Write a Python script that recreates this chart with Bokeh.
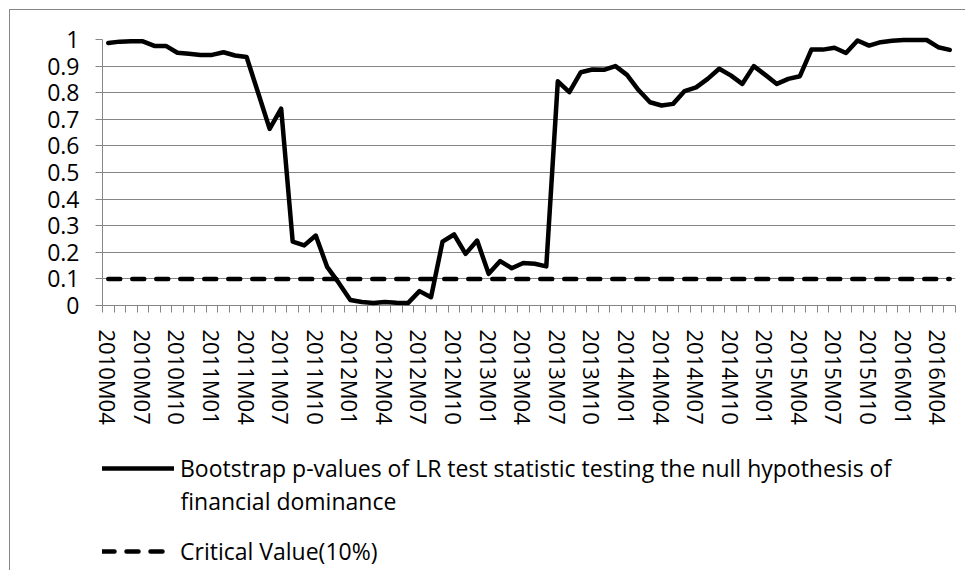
from bokeh.plotting import figure
from bokeh.layouts import column
from bokeh.models import Range1d, FixedTicker, Legend, LegendItem, Label
from bokeh.embed import file_html
from bokeh.resources import INLINE

# ---- data ----
p_values = [0.987, 0.992, 0.993, 0.993, 0.976, 0.976, 0.950, 0.946, 0.942, 0.942,
            0.952, 0.940, 0.934, 0.800, 0.664, 0.740, 0.240, 0.226, 0.263, 0.144,
            0.085, 0.021, 0.013, 0.009, 0.013, 0.010, 0.009, 0.054, 0.031, 0.240,
            0.267, 0.194, 0.244, 0.119, 0.167, 0.140, 0.160, 0.157, 0.147, 0.843,
            0.802, 0.877, 0.887, 0.886, 0.900, 0.867, 0.810, 0.764, 0.752, 0.758,
            0.806, 0.820, 0.852, 0.890, 0.865, 0.833, 0.900, 0.867, 0.833, 0.852,
            0.862, 0.962, 0.962, 0.969, 0.949, 0.996, 0.977, 0.990, 0.995, 0.998,
            0.998, 0.998, 0.971, 0.961]
critical_value = [0.1] * len(p_values)
month_index = list(range(len(p_values)))  # 2010M04 ... 2016M05

x_tick_labels = ["2010M04", "2010M07", "2010M10", "2011M01", "2011M04", "2011M07",
                 "2011M10", "2012M01", "2012M04", "2012M07", "2012M10", "2013M01",
                 "2013M04", "2013M07", "2013M10", "2014M01", "2014M04", "2014M07",
                 "2014M10", "2015M01", "2015M04", "2015M07", "2015M10", "2016M01",
                 "2016M04"]
x_tick_pos = [3 * k for k in range(len(x_tick_labels))]
y_ticks = [0, 0.1, 0.2, 0.3, 0.4, 0.5, 0.6, 0.7, 0.8, 0.9, 1]
y_tick_labels = ["0", "0.1", "0.2", "0.3", "0.4", "0.5", "0.6", "0.7", "0.8", "0.9", "1"]

label_1_line_1 = "Bootstrap p-values of LR test statistic testing the null hypothesis of"
label_1_line_2 = "financial dominance"
label_2 = "Critical Value(10%)"

GRAY = "#868686"
FONT = "Open Sans"
W = 965

# ---------------- main chart ----------------
p = figure(width=W, height=440, output_backend="svg", toolbar_location=None,
           x_range=Range1d(-0.5, len(p_values) - 0.5), y_range=Range1d(0, 1),
           min_border_left=85, min_border_right=10, min_border_top=39,
           min_border_bottom=135)
p.outline_line_color = None
p.border_fill_color = None

r1 = p.line(month_index, p_values, line_color="black", line_width=4.5,
            line_join="round", line_cap="round")
r2 = p.line(month_index, critical_value, line_color="black", line_width=4.5,
            line_dash="12 12", line_cap="round")
r1.level = "overlay"

xa = p.xaxis[0]
xa.ticker = FixedTicker(ticks=x_tick_pos,
                        minor_ticks=[i - 0.5 for i in range(len(p_values) + 1)])
xa.major_label_overrides = {pos: lab for pos, lab in zip(x_tick_pos, x_tick_labels)}
xa.major_label_orientation = "vertical"
xa.major_tick_out = 0
xa.major_tick_in = 0
xa.minor_tick_out = 7
xa.minor_tick_in = 0
xa.minor_tick_line_color = GRAY
xa.axis_line_color = GRAY
xa.major_label_standoff = 17
xa.major_label_text_font = FONT
xa.major_label_text_font_size = "22px"
xa.major_label_text_color = "black"

ya = p.yaxis[0]
ya.ticker = FixedTicker(ticks=y_ticks, minor_ticks=[])
ya.major_label_overrides = {t: lab for t, lab in zip(y_ticks, y_tick_labels)}
ya.major_tick_out = 7
ya.major_tick_in = 0
ya.major_tick_line_color = GRAY
ya.axis_line_color = GRAY
ya.major_label_standoff = 16
ya.major_label_text_font = FONT
ya.major_label_text_font_size = "23px"
ya.major_label_text_color = "black"

p.xgrid.grid_line_color = None
p.ygrid.ticker = FixedTicker(ticks=y_ticks)
p.ygrid.grid_line_color = GRAY
p.ygrid.grid_line_width = 1

# ---------------- legend strip ----------------
q = figure(width=W, height=130, output_backend="svg", toolbar_location=None,
           x_range=Range1d(-10, -5), y_range=Range1d(0, 1),
           x_axis_location=None, y_axis_location=None,
           min_border_left=102, min_border_right=0, min_border_top=12,
           min_border_bottom=0)
q.outline_line_color = None
q.border_fill_color = None
q.grid.visible = False
lr1 = q.line(month_index, p_values, line_color="black", line_width=4.5, line_cap="round")
lr2 = q.line(month_index, critical_value, line_color="black", line_width=4.5,
             line_dash="12 12", line_cap="round")

legend = Legend(items=[LegendItem(label=label_1_line_1, renderers=[lr1]),
                       LegendItem(label=label_2, renderers=[lr2])],
                location="top_left", orientation="vertical")
legend.label_text_font = FONT
legend.label_text_font_size = "23px"
legend.label_text_color = "black"
legend.glyph_width = 72
legend.glyph_height = 20
legend.label_standoff = 6
legend.spacing = 51
legend.padding = 0
legend.margin = 0
legend.border_line_color = None
legend.background_fill_alpha = 0
q.add_layout(legend)

q.add_layout(Label(x=78, y=70, x_units="screen", y_units="screen", text=label_1_line_2,
                   text_font=FONT, text_font_size="23px", text_color="black",
                   text_baseline="middle", text_align="left"))

page = column(p, q, spacing=0)
page.styles = {"box-shadow": "inset 9px 9px 0 0 #ffffff, inset 10px 10px 0 0 " + GRAY}

open("out.html", "w").write(file_html(page, INLINE))
